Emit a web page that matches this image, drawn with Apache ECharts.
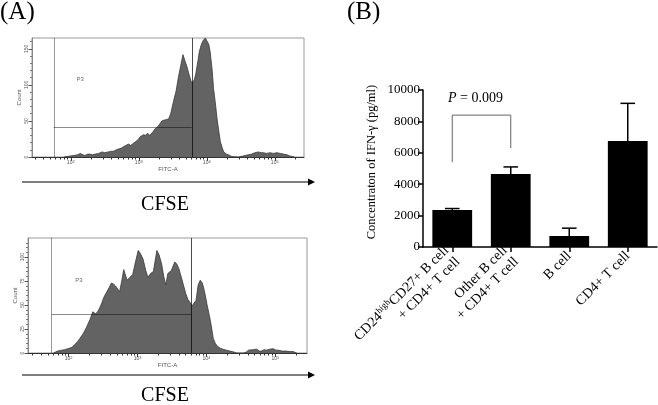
<!DOCTYPE html>
<html>
<head>
<meta charset="utf-8">
<script src="https://cdn.jsdelivr.net/npm/echarts@6/dist/echarts.min.js"></script>
<style>
html,body{margin:0;padding:0;background:#fff;}
#c{width:658px;height:405px;}
</style>
</head>
<body>
<div id="c"></div>
<script>
// ---------- DATA ----------
// Panel A top histogram: log10(FITC-A) and counts
const topLog = [1.90,1.97,2.04,2.10,2.14,2.18,2.21,2.25,2.28,2.32,2.36,2.41,2.46,2.50,2.55,2.60,2.63,2.67,2.70,2.74,2.77,2.81,2.85,2.88,2.90,2.95,2.99,3.02,3.07,3.10,3.13,3.16,3.18,3.21,3.24,3.28,3.31,3.34,3.37,3.41,3.44,3.47,3.51,3.55,3.58,3.62,3.65,3.68,3.71,3.74,3.77,3.79,3.82,3.84,3.87,3.89,3.92,3.95,3.98,4.00,4.03,4.05,4.08,4.10,4.13,4.15,4.18,4.20,4.23,4.25,4.29,4.32,4.36,4.39,4.46,4.52,4.56,4.61,4.66,4.71,4.76,4.80,4.83,4.88,4.93,4.98,5.03,5.08,5.13,5.18,5.22,5.29];
const topCount = [0,1,2,3,5,3,2,4,4,3,4,5,7,6,7,8,8,10,11,12,14,16,18,16,15,21,24,28,31,30,33,30,31,35,39,42,46,50,51,52,53,60,77,92,109,128,142,133,125,114,105,102,108,116,133,146,156,162,165,164,156,146,120,95,72,54,34,21,12,7,4,3,1,0.5,0,1,2,3,4,6,7,6,6,5,6,5,6,5,4,3,1.5,0];
// Panel A bottom histogram
const botLog = [1.78,1.84,1.90,1.94,2.01,2.05,2.09,2.13,2.16,2.21,2.26,2.31,2.35,2.37,2.39,2.42,2.45,2.48,2.51,2.54,2.57,2.60,2.62,2.65,2.68,2.71,2.74,2.77,2.80,2.83,2.85,2.89,2.93,2.97,3.01,3.04,3.08,3.12,3.15,3.19,3.23,3.26,3.28,3.31,3.35,3.38,3.41,3.44,3.49,3.54,3.57,3.60,3.64,3.67,3.70,3.73,3.76,3.79,3.81,3.85,3.88,3.91,3.94,3.96,3.99,4.01,4.04,4.06,4.08,4.10,4.13,4.16,4.20,4.24,4.29,4.34,4.40,4.44,4.54,4.58,4.61,4.63,4.68,4.73,4.77,4.80,4.84,4.87,4.92,4.97,5.01,5.04,5.10,5.16,5.22,5.26,5.31];
const botCount = [0,2,3,3.5,5,6,9,12,15,20,27,35,43,44,41,43,47,52,58,62,66,70,73,72,70,67,64,75,87,80,76,79,82,95,107,104,98,86,79,83,85,98,107,103,93,80,71,83,86,95,93,88,78,70,62,56,53,49,48,55,71,76,73,68,58,50,40,33,24,15,10,7,5,4,3,2,1,0,0,1,3,4,3.5,4,2,2,3.5,3,4,4.5,3,3,2,2,1.5,1.5,0];
// Gates (log10 FITC, count)
const topGate = {left: 1.75, right: 3.78, level: 41};
const botGate = {left: 1.75, right: 3.78, level: 40};
const histDecades = [2, 3, 4, 5];
const topYTicks = [0, 50, 100, 150];
const botYTicks = [0, 25, 50, 75, 100];

// Panel B bar chart
const barCategories = [
  'CD24|high|CD27+ B cell\n+ CD4+ T cell',
  'Other B cell\n+ CD4+ T cell',
  'B cell',
  'CD4+ T cell'
];
const barMeans = [2350, 4650, 700, 6750];
const barErrTop = [2450, 5100, 1200, 9150];
const sigPair = [0, 1];
const sigBracket = {top: 8400, leftEnd: 5400, rightEnd: 6300};
const sigText = 'P = 0.009';
const sigTextValue = 9450;

// ---------- HELPERS ----------
function minorLogTicks(lo, hi) {
  const out = [];
  for (let d = 1; d <= 5; d++) {
    for (let k = 2; k <= 9; k++) {
      const v = d + Math.log10(k);
      if (v > lo && v < hi) out.push(v);
    }
  }
  return out;
}
function minorLinear(step, max, majors) {
  const out = [];
  for (let v = step; v < max; v += step) if (majors.indexOf(v) < 0) out.push(v);
  return out;
}
const zip = (a, b) => a.map((v, i) => [v, b[i]]);

const serif = '"Liberation Serif", "DejaVu Serif", serif';
const sans = '"Liberation Sans", Arial, sans-serif';

function histX(gridIndex, min, max, showName) {
  return [{
    type: 'value', gridIndex, min, max, position: 'bottom',
    name: showName ? 'FITC-A' : '', nameLocation: 'middle', nameGap: 9,
    nameTextStyle: {fontSize: 6, color: '#555', fontFamily: sans},
    axisLine: {show: true, lineStyle: {color: '#333', width: 1}},
    axisTick: {show: true, length: 4, customValues: histDecades, lineStyle: {color: '#333'}},
    axisLabel: {show: true, customValues: histDecades, margin: 3, fontSize: 5, color: '#555', fontFamily: sans,
      formatter: v => '10{s|' + Math.round(v) + '}', rich: {s: {fontSize: 4, verticalAlign: 'top', lineHeight: 5, color: '#555'}}},
    splitLine: {show: false}
  }, {
    type: 'value', gridIndex, min, max, position: 'bottom',
    axisLine: {show: false},
    axisTick: {show: true, length: 2.5, customValues: minorLogTicks(min, max), lineStyle: {color: '#333'}},
    axisLabel: {show: false},
    splitLine: {show: false}
  }];
}
function histY(gridIndex, max, majors, step) {
  return [{
    type: 'value', gridIndex, min: 0, max, position: 'left',
    name: 'Count', nameLocation: 'middle', nameGap: 10, nameRotate: 90,
    nameTextStyle: {fontSize: 6, color: '#555', fontFamily: sans},
    axisLine: {show: true, lineStyle: {color: '#888'}},
    axisTick: {show: true, length: 3.5, customValues: majors, lineStyle: {color: '#555'}},
    axisLabel: {show: true, customValues: majors, rotate: 90, margin: 3, fontSize: 5, color: '#555', fontFamily: sans},
    splitLine: {show: false}
  }, {
    type: 'value', gridIndex, min: 0, max, position: 'left', offset: 0,
    axisLine: {show: false},
    axisTick: {show: true, length: 2, customValues: minorLinear(step, max, majors), lineStyle: {color: '#777'}},
    axisLabel: {show: false},
    splitLine: {show: false}
  }];
}
function histSeries(xi, yi, log, count, gate, ymax, p3) {
  return [{
    type: 'line', xAxisIndex: xi, yAxisIndex: yi, data: zip(log, count),
    showSymbol: false, symbol: 'none', smooth: false,
    lineStyle: {color: '#3a3a3a', width: 0.8},
    areaStyle: {color: '#636363', opacity: 1},
    z: 2,
    markLine: {
      silent: true, symbol: 'none', animation: false, label: {show: false},
      data: [
        [{coord: [gate.left, 0], lineStyle: {color: 'rgba(0,0,0,0.4)', width: 1, type: 'solid'}}, {coord: [gate.left, ymax]}],
        [{coord: [gate.right, 0], lineStyle: {color: 'rgba(0,0,0,0.7)', width: 1, type: 'solid'}}, {coord: [gate.right, ymax]}],
        [{coord: [gate.left, gate.level], lineStyle: {color: 'rgba(0,0,0,0.45)', width: 1, type: 'solid'}}, {coord: [gate.right, gate.level]}]
      ]
    }
  }, {
    type: 'scatter', xAxisIndex: xi, yAxisIndex: yi, data: [p3], symbolSize: 0, silent: true,
    label: {show: true, position: 'inside', formatter: 'P3', fontSize: 6, color: '#444', fontFamily: sans}
  }];
}

// ---------- CHART ----------
const chart = echarts.init(document.getElementById('c'), null, {renderer: 'canvas'});

const option = {
  animation: false,
  backgroundColor: '#fff',
  grid: [
    {left: 32, top: 38, width: 272, height: 119, show: true, borderColor: '#999', borderWidth: 1, backgroundColor: 'transparent'},
    {left: 28, top: 238, width: 279, height: 115, show: true, borderColor: '#999', borderWidth: 1, backgroundColor: 'transparent'},
    {left: 423, top: 90, width: 234, height: 157}
  ],
  xAxis: [
    ...histX(0, 1.43, 5.43, true),
    ...histX(1, 1.41, 5.46, true),
    {
      type: 'category', gridIndex: 2, data: barCategories,
      axisLine: {show: true, lineStyle: {color: '#000', width: 1.5}},
      axisTick: {show: true, alignWithLabel: true, length: 5, lineStyle: {color: '#000', width: 1.5}},
      axisLabel: {
        interval: 0, rotate: 45, margin: 7, fontSize: 14, color: '#000', fontFamily: serif, lineHeight: 16,
        formatter: v => {
          const parts = v.split('|');
          if (parts.length === 3) {
            const [a, s, rest] = parts;
            const lines = rest.split('\n');
            return '{t|' + a + '}{s|' + s + '}{t|' + lines[0] + '}\n{t|' + lines[1] + '}';
          }
          return v.split('\n').map(l => '{t|' + l + '}').join('\n');
        },
        rich: {
          t: {fontSize: 14, fontFamily: serif, color: '#000', lineHeight: 16},
          s: {fontSize: 9, fontFamily: serif, color: '#000', verticalAlign: 'top', lineHeight: 10}
        }
      },
      splitLine: {show: false}
    }
  ],
  yAxis: [
    ...histY(0, 165, topYTicks, 10),
    ...histY(1, 120, botYTicks, 5),
    {
      type: 'value', gridIndex: 2, min: 0, max: 10000, interval: 2000,
      name: 'Concentraton of IFN-\u03b3 (pg/ml)', nameLocation: 'middle', nameGap: 45, nameRotate: 90,
      nameTextStyle: {fontSize: 12.5, fontFamily: serif, color: '#000', padding: [0, 0, 0, 13]},
      axisLine: {show: true, lineStyle: {color: '#000', width: 1.5}},
      axisTick: {show: true, length: 5, lineStyle: {color: '#000', width: 1.5}},
      axisLabel: {fontSize: 13, fontFamily: serif, color: '#000', margin: 3, formatter: v => String(v)},
      splitLine: {show: false}
    }
  ],
  series: [
    ...histSeries(0, 0, topLog, topCount, topGate, 165, [2.14, 108]),
    ...histSeries(2, 2, botLog, botCount, botGate, 120, [2.15, 76]),
    {
      type: 'bar', xAxisIndex: 4, yAxisIndex: 4, data: barMeans,
      barCategoryGap: '32%', itemStyle: {color: '#000'}, z: 2
    },
    {
      type: 'custom', xAxisIndex: 4, yAxisIndex: 4,
      data: barMeans.map((m, i) => [i, m, barErrTop[i]]),
      z: 3,
      renderItem: (params, api) => {
        const i = api.value(0);
        const p0 = api.coord([i, api.value(1)]);
        const p1 = api.coord([i, api.value(2)]);
        const hw = api.size([1, 0])[0] * 0.125;
        const st = {stroke: '#000', lineWidth: 1.5};
        return {type: 'group', children: [
          {type: 'line', shape: {x1: p0[0], y1: p0[1], x2: p1[0], y2: p1[1]}, style: st},
          {type: 'line', shape: {x1: p1[0] - hw, y1: p1[1], x2: p1[0] + hw, y2: p1[1]}, style: st}
        ]};
      }
    },
    {
      type: 'custom', xAxisIndex: 4, yAxisIndex: 4,
      data: [[sigPair[0], sigPair[1], sigBracket.top, sigBracket.leftEnd, sigBracket.rightEnd, sigTextValue]],
      z: 3,
      renderItem: (params, api) => {
        const a = api.value(0), b = api.value(1);
        const tl = api.coord([a, api.value(2)]);
        const tr = api.coord([b, api.value(2)]);
        const bl = api.coord([a, api.value(3)]);
        const br = api.coord([b, api.value(4)]);
        const tp = api.coord([a, api.value(5)]);
        const tq = api.coord([b, api.value(5)]);
        const st = {stroke: '#666', lineWidth: 1, fill: null};
        return {type: 'group', children: [
          {type: 'polyline', shape: {points: [bl, tl, tr, br]}, style: st},
          {type: 'text', x: (tp[0] + tq[0]) / 2 - 6, y: tp[1],
           style: {text: '{i|P} = 0.009', rich: {i: {fontStyle: 'italic', fontSize: 14, fontFamily: serif, fill: '#000'}},
                   fontSize: 14, fontFamily: serif, fill: '#000', align: 'center', verticalAlign: 'middle'}}
        ]};
      }
    }
  ],
  graphic: [
    {type: 'text', left: 0, top: 0, style: {text: '(A)', fontSize: 25, fontFamily: serif, fill: '#000'}},
    {type: 'text', left: 347, top: 0, style: {text: '(B)', fontSize: 25, fontFamily: serif, fill: '#000'}},
    {type: 'text', x: 165, y: 205, style: {text: 'CFSE', fontSize: 20, fontFamily: serif, fill: '#000', align: 'center', verticalAlign: 'middle'}},
    {type: 'text', x: 165, y: 396, style: {text: 'CFSE', fontSize: 20, fontFamily: serif, fill: '#000', align: 'center', verticalAlign: 'middle'}},
    {type: 'line', shape: {x1: 22, y1: 182, x2: 309, y2: 182}, style: {stroke: '#000', lineWidth: 1.2}},
    {type: 'polygon', shape: {points: [[308, 178.5], [315, 182], [308, 185.5]]}, style: {fill: '#000'}},
    {type: 'line', shape: {x1: 22, y1: 375, x2: 309, y2: 375}, style: {stroke: '#000', lineWidth: 1.2}},
    {type: 'polygon', shape: {points: [[308, 371.5], [315, 375], [308, 378.5]]}, style: {fill: '#000'}}
  ]
};
chart.setOption(option);
</script>
</body>
</html>
